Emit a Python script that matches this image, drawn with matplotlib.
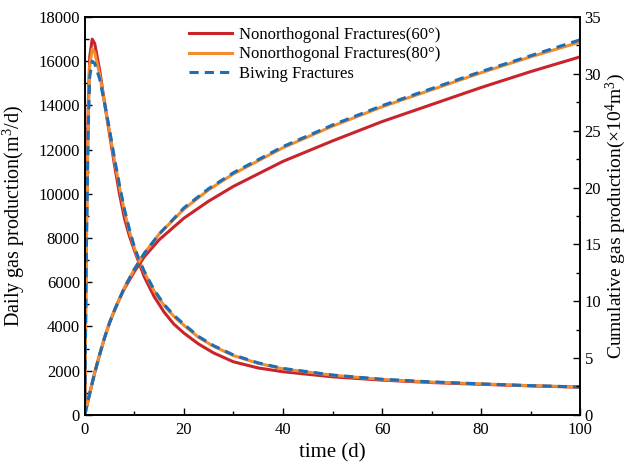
import matplotlib
matplotlib.use('Agg')
import matplotlib.pyplot as plt
from matplotlib.ticker import MultipleLocator

plt.rcParams['font.family'] = ['Liberation Serif', 'DejaVu Serif']
plt.rcParams['mathtext.fontset'] = 'custom'
plt.rcParams['mathtext.rm'] = 'Liberation Serif'
plt.rcParams['mathtext.it'] = 'Liberation Serif:italic'

# daily gas production (m3/d)
t_daily = [0, 0.3, 0.7, 1.0, 1.5, 2.0, 3.0, 4.0, 5.0, 6.0, 7.0, 8.0, 9.0, 10, 11, 12, 14, 16,
           18, 20, 23, 26, 30, 35, 40, 50, 60, 70, 80, 90, 100]
daily_60 = [0, 8000, 14000, 16200, 17000, 16800, 15600, 14100, 12700, 11300, 10000, 8900, 8100,
            7450, 6850, 6250, 5350, 4650, 4100, 3700, 3200, 2800, 2400, 2120, 1950, 1720, 1570,
            1460, 1380, 1310, 1250]
daily_80 = [0, 7500, 13500, 15800, 16550, 16400, 15400, 14100, 12800, 11500, 10300, 9200, 8300,
            7550, 6950, 6450, 5600, 4950, 4450, 4050, 3500, 3100, 2680, 2330, 2080, 1790, 1600,
            1480, 1400, 1320, 1260]
daily_biwing = [0, 7000, 13000, 15300, 16000, 15900, 15200, 14100, 12900, 11600, 10400, 9300, 8400,
                7600, 7000, 6500, 5650, 5000, 4500, 4100, 3540, 3130, 2710, 2350, 2100, 1800, 1610,
                1490, 1400, 1320, 1260]

# cumulative gas production (x10^4 m3)
t_cum = [0, 1, 2, 3, 4, 5, 6, 7, 8, 10, 12, 15, 20, 25, 30, 40, 50, 60, 70, 80, 90, 100]
cum_60 = [0, 1.9, 3.7, 5.3, 6.8, 8.1, 9.2, 10.2, 11.1, 12.6, 13.9, 15.4, 17.3, 18.8, 20.1, 22.3,
          24.1, 25.8, 27.3, 28.8, 30.2, 31.5]
cum_80 = [0, 1.9, 3.7, 5.3, 6.8, 8.1, 9.2, 10.2, 11.2, 12.8, 14.2, 15.9, 18.1, 19.8, 21.2, 23.5,
          25.4, 27.1, 28.6, 30.1, 31.5, 32.8]
cum_biwing = [0, 1.9, 3.7, 5.3, 6.8, 8.1, 9.2, 10.2, 11.2, 12.8, 14.2, 15.9, 18.2, 19.9, 21.3, 23.6,
              25.5, 27.2, 28.7, 30.2, 31.6, 33.0]

c_red = '#C8242B'
c_orange = '#F28C2E'
c_blue = '#1F6DB3'

fig = plt.figure(figsize=(6.28, 4.73), dpi=100)
ax = fig.add_axes([0.135, 0.123, 0.789, 0.841])
ax2 = ax.twinx()

l1, = ax.plot(t_daily, daily_60, color=c_red, lw=2.2, label='Nonorthogonal Fractures(60°)')
l2, = ax.plot(t_daily, daily_80, color=c_orange, lw=2.2, label='Nonorthogonal Fractures(80°)')
l3, = ax.plot(t_daily, daily_biwing, color=c_blue, lw=2.2, ls=(0, (3, 2)), label='Biwing Fractures')

ax2.plot(t_cum, cum_60, color=c_red, lw=2.2)
ax2.plot(t_cum, cum_80, color=c_orange, lw=2.2)
ax2.plot(t_cum, cum_biwing, color=c_blue, lw=2.2, ls=(0, (3, 2)))

ax.set_xlim(0, 100)
ax.set_ylim(0, 18000)
ax2.set_ylim(0, 35)
ax.xaxis.set_major_locator(MultipleLocator(20))
ax.xaxis.set_minor_locator(MultipleLocator(10))
ax.yaxis.set_major_locator(MultipleLocator(2000))
ax.yaxis.set_minor_locator(MultipleLocator(1000))
ax2.yaxis.set_major_locator(MultipleLocator(5))
ax2.yaxis.set_minor_locator(MultipleLocator(2.5))

for a in (ax, ax2):
    a.tick_params(which='both', direction='in', labelsize=12, width=1)
    a.tick_params(which='major', length=5)
    a.tick_params(which='minor', length=3)
    for s in a.spines.values():
        s.set_linewidth(1.2)
ax.tick_params(axis='x', pad=5)
ax2.tick_params(axis='y', pad=3)

ax.set_xlabel('time (d)', fontsize=15, labelpad=4)
ax.set_ylabel('Daily gas production(m$^3$/d)', fontsize=14.5, labelpad=8)
ax2.set_ylabel('Cumulative gas production(×10$^4$m$^3$)', fontsize=14, labelpad=2)

ax.legend(handles=[l1, l2, l3], loc='upper left', bbox_to_anchor=(0.19, 1.0), frameon=False,
          fontsize=12, handlelength=2.6, handletextpad=0.4, labelspacing=0.2, borderaxespad=0.2)

plt.savefig('out.png', dpi=100)
